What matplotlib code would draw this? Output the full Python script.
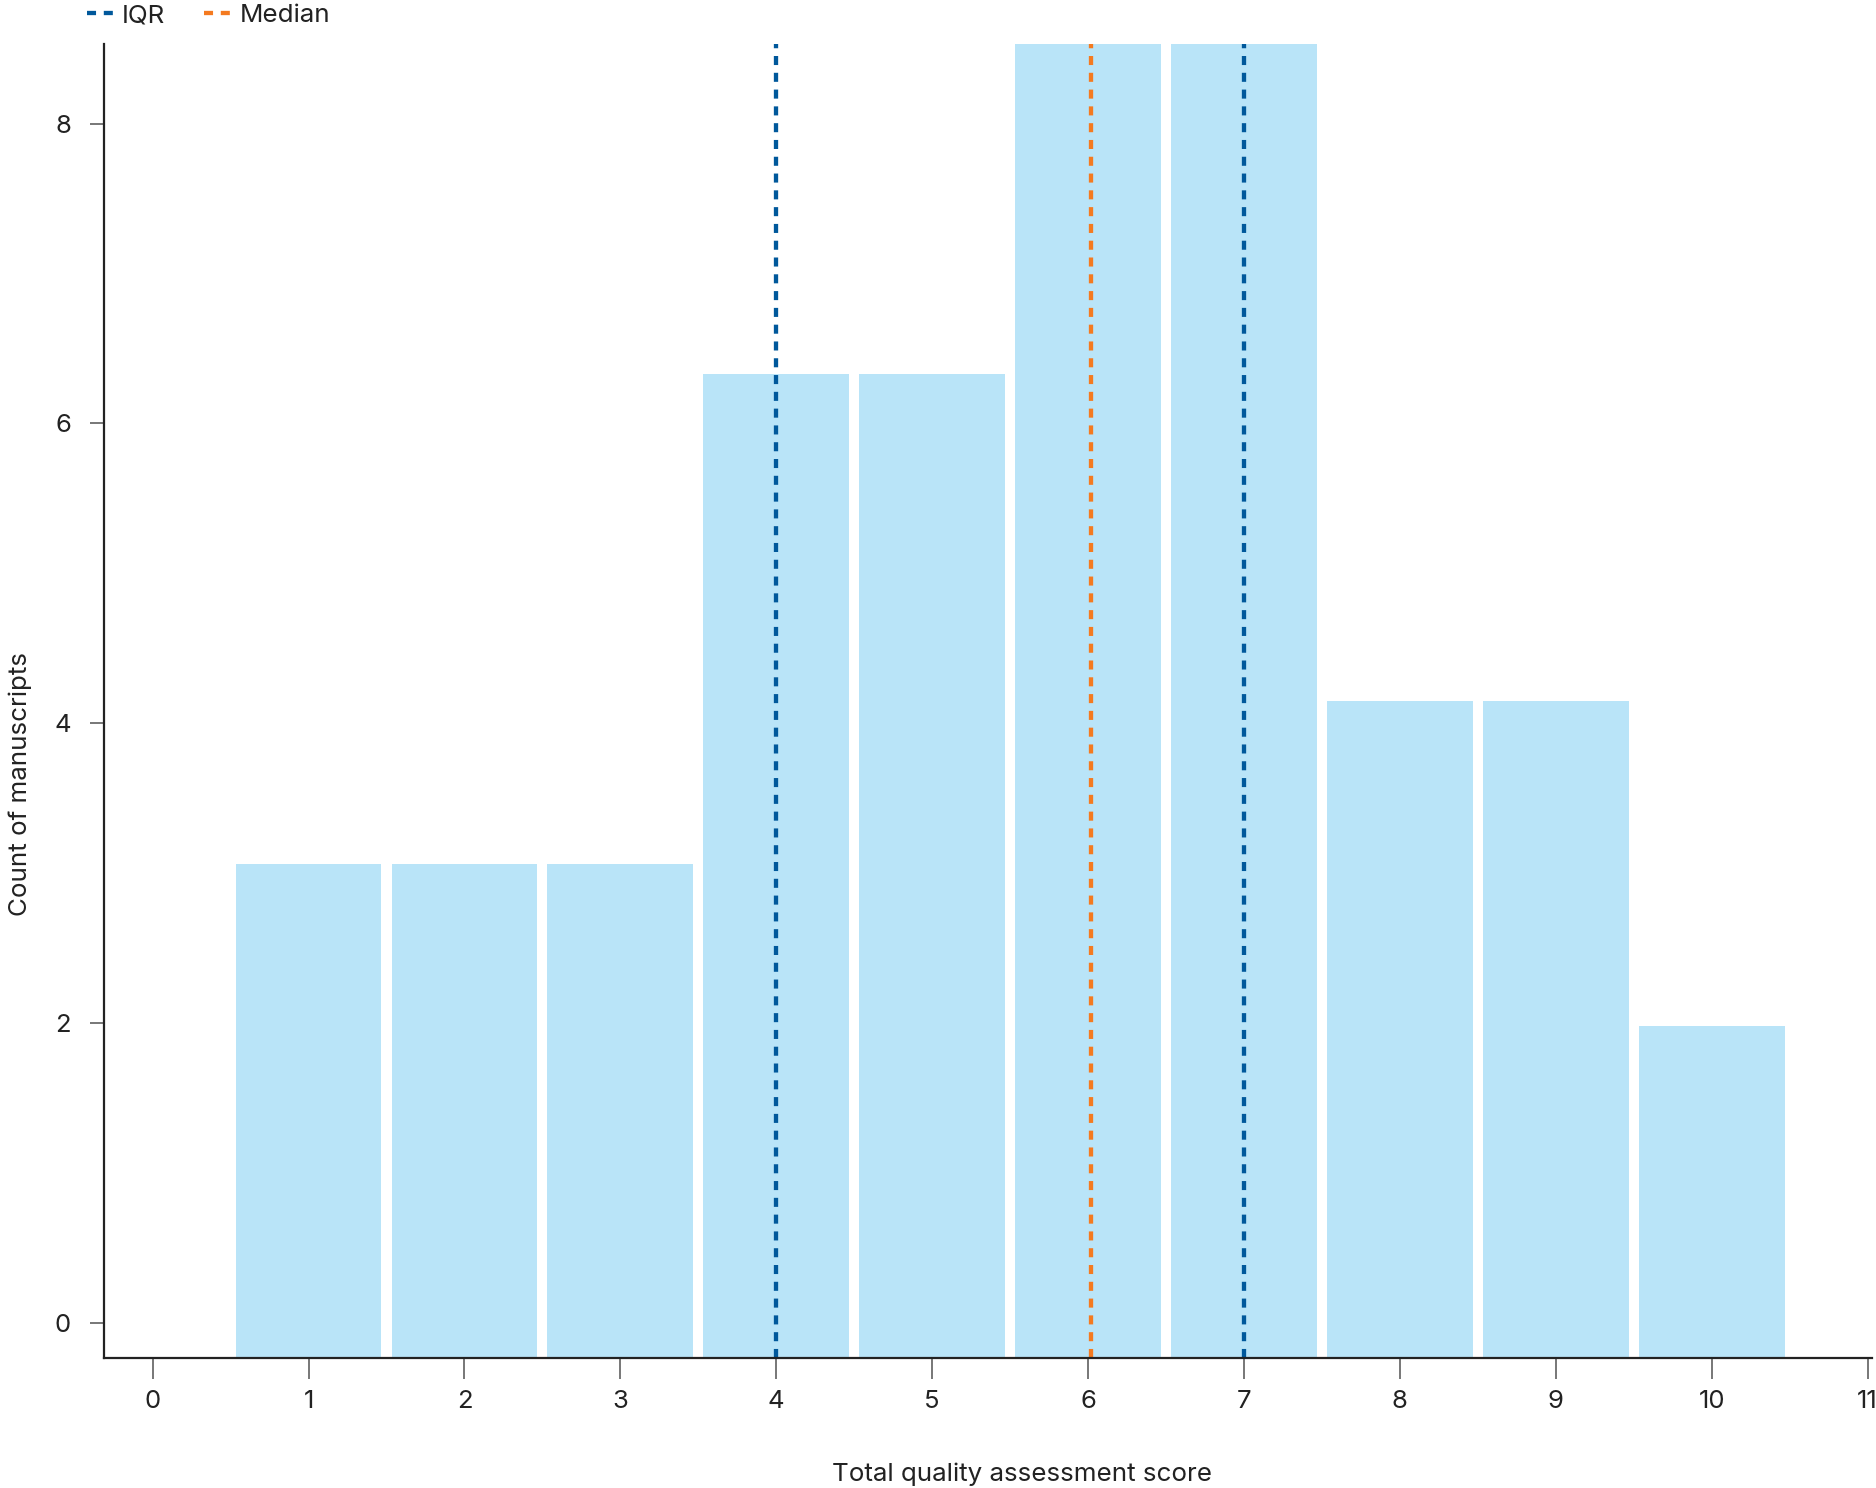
import matplotlib
matplotlib.use('Agg')
import matplotlib.pyplot as plt
from matplotlib.lines import Line2D

# data
scores = [1, 2, 3, 4, 5, 6, 7, 8, 9, 10]
counts = [3.06, 3.06, 3.06, 6.33, 6.33, 9.0, 9.0, 4.15, 4.15, 1.98]
iqr = [4, 7]
median = 6.02

barColor = '#b9e4f8'
iqrColor = '#00589b'
medColor = '#f47a20'

plt.rcParams['font.family'] = ['Inter', 'DejaVu Sans']

fig = plt.figure(figsize=(18.76, 14.88), dpi=100)
ax = fig.add_axes([0.0556, 0.0874, 0.9424, 0.8829])

ybot, ytop = -0.235, 8.53
ax.bar(scores, [c - ybot for c in counts], bottom=ybot, width=0.935,
       color=barColor, linewidth=0)

for v in iqr:
    ax.axvline(v, color=iqrColor, lw=3.1, dashes=(2.1, 1.8))
ax.axvline(median, color=medColor, lw=3.1, dashes=(2.1, 1.8))

ax.set_xlim(-0.31, 11.03)
ax.set_ylim(ybot, ytop)
ax.set_xticks(range(0, 12))
ax.set_yticks([0, 2, 4, 6, 8])

for side in ['top', 'right']:
    ax.spines[side].set_visible(False)
for side in ['left', 'bottom']:
    ax.spines[side].set_color('#222222')
    ax.spines[side].set_linewidth(1.6)

ax.tick_params(axis='x', length=15, width=1.4, color='#777777', labelsize=18.5,
               labelcolor='#222222', pad=8)
ax.tick_params(axis='y', length=10, width=1.4, color='#777777', labelsize=18.5,
               labelcolor='#222222', pad=14)

ax.set_xlabel('Total quality assessment score', fontsize=18.7, color='#222222',
              labelpad=36, x=0.519)
ax.set_ylabel('Count of manuscripts', fontsize=18.7, color='#222222',
              labelpad=16, y=0.437)

handles = [Line2D([0], [0], color=iqrColor, lw=3.1, dashes=(2.1, 1.8)),
           Line2D([0], [0], color=medColor, lw=3.1, dashes=(2.1, 1.8))]
fig.legend(handles, ['IQR', 'Median'], loc='upper left', bbox_to_anchor=(0.034, 1.013),
           ncol=2, frameon=False, fontsize=18.7, handlelength=1.15, handletextpad=0.2,
           columnspacing=1.5, labelcolor='#222222')

fig.savefig('out.png', dpi=100)
